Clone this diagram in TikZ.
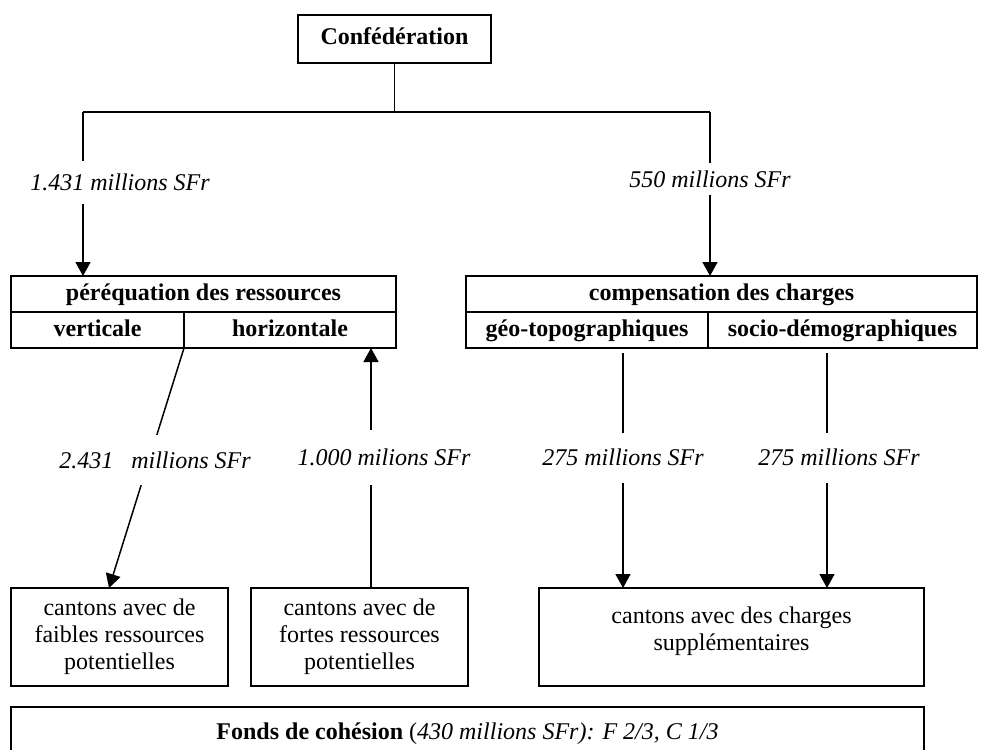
\documentclass[tikz,border=0pt]{standalone}
\usepackage{fontspec}
\setmainfont{Liberation Serif}
\usetikzlibrary{arrows.meta,positioning}
\newcommand{\twelve}{\fontsize{12}{13.5}\selectfont}
\tikzstyle{box} = [rectangle, draw, line width=0.8pt, outer sep=0pt, inner sep=0pt, text height=8.5pt, text depth=2.5pt, font=\twelve\bfseries, minimum height=18pt]
\tikzstyle{canton} = [rectangle, draw, line width=0.8pt, outer sep=0pt, inner sep=0pt, align=center, font=\twelve, minimum height=49pt]
\tikzstyle{amount} = [fill=white, font=\twelve\itshape, inner xsep=1pt, inner ysep=0pt]
\tikzstyle{tline} = [draw, line width=0.75pt]
\tikzstyle{tedge} = [draw, line width=0.75pt, >={Triangle[length=7pt,width=7.5pt]}, ->]

\begin{document}
\begin{tikzpicture}[x=0.5pt, y=-0.5pt]
\useasboundingbox (0,0) rectangle (983,749);

% top =============================
\node[box, minimum width=96.5pt, minimum height=24pt] (conf) at (394.5,39) {Confédération};
\coordinate (barL) at (83,112);
\coordinate (barR) at (710,112);
\coordinate (bar) at (conf.south |- barL);

% resources
\node[box, minimum width=192.5pt] (pere) at (203.5,294) {péréquation des ressources};
\node[box, minimum width=86.5pt, below right=0pt and 0pt of pere.south west] (vert) {verticale};
\node[box, minimum width=106pt, right=0pt of vert] (horiz) {horizontale};

% charges
\node[box, minimum width=255.5pt] (comp) at (721.5,294) {compensation des charges};
\node[box, minimum width=121pt, below right=0pt and 0pt of comp.south west] (geo) {géo-topographiques};
\node[box, minimum width=134.5pt, right=0pt of geo] (socio) {socio-démographiques};

% cantons
\node[canton, minimum width=108.5pt] (faible) at (119.5,637) {cantons avec de\\faibles ressources\\potentielles};
\node[canton, minimum width=108.5pt, right=11.5pt of faible] (forte) {cantons avec de\\fortes ressources\\potentielles};
\node[canton, minimum width=192.5pt] (suppl) at (731.5,637) {cantons avec des charges\\supplémentaires\\[-5pt]\mbox{}};

% fund
\node[canton, minimum width=456.5pt, minimum height=26.5pt] (fonds) at (467.5,733.5) {\textbf{Fonds de cohésion} (\textit{430 millions SFr): F 2/3, C 1/3}};

% edges
\coordinate (fin) at ([xshift=-5.25pt]faible.north);
\coordinate (fout) at ([xshift=5.75pt]forte.north);
\coordinate (gout) at ([xshift=18pt,yshift=-2.5pt]geo.south);
\coordinate (sout) at ([xshift=-7.75pt,yshift=-2.5pt]socio.south);

\path[tline] (conf.south) -- (bar);
\path[tline] (barL) -- (barR);
\path[tedge] (barL) -- node[amount, pos=0.43, xshift=18.5pt, minimum height=21.5pt] (a1431) {1.431 millions SFr} (barL |- pere.north);
\path[tedge] (barR) -- node[amount, pos=0.41, minimum height=16pt] (a550) {550 millions SFr} (barR |- comp.north);

\path[tedge] (vert.south east) -- node[amount, pos=0.467, xshift=3pt, minimum height=25pt] (a2431) {2.431\hspace{9pt}millions SFr} (fin);
\path[tedge] (fout) -- node[amount, pos=0.544, xshift=6.5pt, minimum height=27.5pt] (a1000) {1.000 milions SFr} (fout |- horiz.south);

\path[tedge] (gout) -- node[amount, pos=0.445, minimum height=25pt] (a275g) {275 millions SFr} (gout |- suppl.north);
\path[tedge] (sout) -- node[amount, pos=0.445, xshift=6pt, minimum height=25pt] (a275s) {275 millions SFr} (sout |- suppl.north);

\end{tikzpicture}
\end{document}
